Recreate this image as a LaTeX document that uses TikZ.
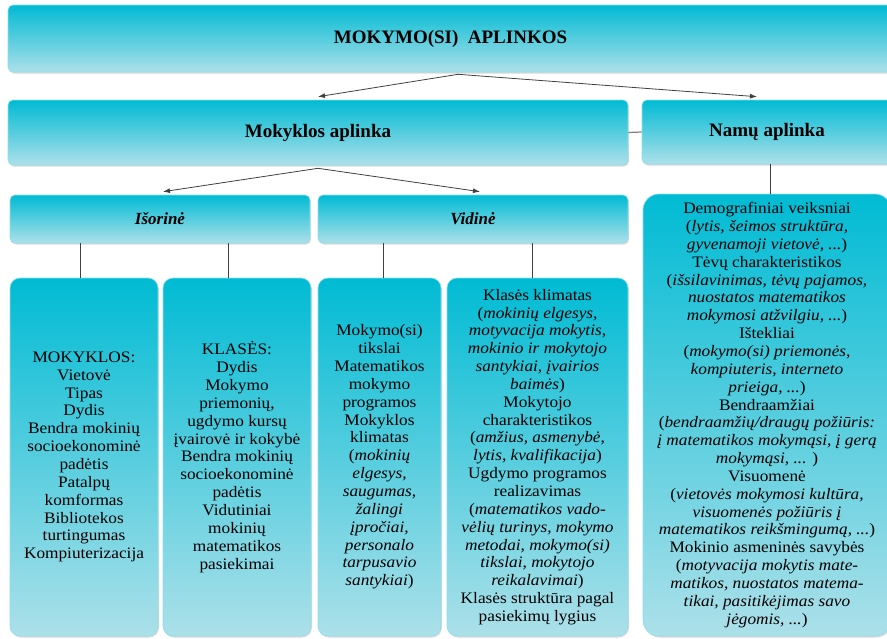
\documentclass[tikz,border=0pt]{standalone}
\usepackage{fontspec}
\setmainfont{Liberation Serif}[FakeStretch=1.08]
\newfontfamily\headfont{Liberation Serif}
\usepackage{tikz}
\usetikzlibrary{arrows.meta,shadows,calc}
\definecolor{boxcyan}{RGB}{0,187,212}
\definecolor{boxlight}{RGB}{172,224,233}
\definecolor{linegray}{RGB}{64,64,64}

\begin{document}
\begin{tikzpicture}[x=1pt,y=-1pt,>={Latex[length=7pt,width=5pt]},
  every node/.style={inner sep=0pt,align=center},
  boxshade/.style={draw=boxcyan!45!white,line width=0.6pt,
    drop shadow={shadow xshift=1pt,shadow yshift=-1.5pt,opacity=0.3}},
  headbox/.style={boxshade,rounded corners=5pt,top color=boxcyan,middle color=boxcyan,
    bottom color=boxlight,font=\headfont\bfseries\fontsize{19}{22}\selectfont},
  subbox/.style={headbox,minimum height=48pt,
    font=\headfont\bfseries\itshape\fontsize{17}{20}\selectfont},
  factbox/.style={boxshade,rounded corners=10pt,top color=boxcyan,bottom color=boxlight,
    minimum height=358pt,font=\fontsize{16}{17.85}\selectfont},
  homebox/.style={factbox,rounded corners=16pt,minimum height=442pt},
  link/.style={linegray,line width=0.8pt}]
\clip (0,0) rectangle (887,638);

% Top level
\node[headbox,minimum width=885pt,minimum height=67pt] (top) at (450.5,38.5) {MOKYMO(SI)\ \ APLINKOS};

% Second level
\node[headbox,minimum width=620pt,minimum height=65pt] (mok) at (318,132.5) {Mokyklos aplinka};
\node[headbox,minimum width=250pt,minimum height=64pt] (namu) at (767,132) {Namų aplinka};

% Third level
\node[subbox,minimum width=300pt] (isor) at (160,219) {Išorinė};
\node[subbox,minimum width=310pt] (vid) at (473,219) {Vidinė};

% Factors
\node[factbox,minimum width=148pt] (isorA) at (84,457) {MOKYKLOS:\\Vietovė\\Tipas\\Dydis\\Bendra mokinių\\socioekonominė\\padėtis\\Patalpų\\komformas\\Bibliotekos\\turtingumas\\Kompiuterizacija};
\node[factbox,minimum width=148pt] (isorB) at (237,457) {KLASĖS:\\Dydis\\Mokymo\\priemonių,\\ugdymo kursų\\įvairovė ir kokybė\\Bendra mokinių\\socioekonominė\\padėtis\\Vidutiniai\\mokinių\\matematikos\\pasiekimai};
\node[factbox,minimum width=123pt] (vidA) at (379.5,457) {Mokymo(si)\\tikslai\\Matematikos\\mokymo\\programos\\Mokyklos\\klimatas\\(\textit{mokinių}\\\textit{elgesys,}\\\textit{saugumas,}\\\textit{žalingi}\\\textit{įpročiai,}\\\textit{personalo}\\\textit{tarpusavio}\\\textit{santykiai})};
\node[factbox,minimum width=181pt] (vidB) at (537.5,457) {Klasės klimatas\\(\textit{mokinių elgesys,}\\\textit{motyvacija mokytis,}\\\textit{mokinio ir mokytojo}\\\textit{santykiai, įvairios}\\\textit{baimės})\\Mokytojo\\charakteristikos\\(\textit{amžius, asmenybė,}\\\textit{lytis, kvalifikacija})\\Ugdymo programos\\realizavimas\\(\textit{matematikos vado-}\\\textit{vėlių turinys, mokymo}\\\textit{metodai, mokymo(si)}\\\textit{tikslai, mokytojo}\\\textit{reikalavimai})\\Klasės struktūra pagal\\pasiekimų lygius};
\node[homebox,minimum width=248pt] (home) at (767,415) {Demografiniai veiksniai\\(\textit{lytis, šeimos struktūra,}\\\textit{gyvenamoji vietovė, ...})\\Tėvų charakteristikos\\(\textit{išsilavinimas, tėvų pajamos,}\\\textit{nuostatos matematikos}\\\textit{mokymosi atžvilgiu, ...})\\Ištekliai\\(\textit{mokymo(si) priemonės,}\\\textit{kompiuteris, interneto}\\\textit{prieiga, ...})\\Bendraamžiai\\(\textit{bendraamžių/draugų požiūris:}\\\textit{į matematikos mokymąsi, į gerą}\\\textit{mokymąsi, ...} )\\Visuomenė\\(\textit{vietovės mokymosi kultūra,}\\\textit{visuomenės požiūris į}\\\textit{matematikos reikšmingumą, ...})\\Mokinio asmeninės savybės\\(\textit{motyvacija mokytis mate-}\\\textit{matikos, nuostatos matema-}\\\textit{tikai, pasitikėjimas savo}\\\textit{jėgomis, ...})};

% Connectors
\coordinate (topfork) at ($(top.south)+(7.5,2)$);
\coordinate (mokfork) at ($(mok.south)+(0,3)$);
\draw[link,->] (topfork) -- ([yshift=3pt]mok.north);
\draw[link,->] (topfork) -- ([xshift=-10pt,yshift=3pt]namu.north);
\draw[gray,line width=1.2pt] (mok.east) -- (namu.west);
\draw[link,->] (mokfork) -- ([xshift=3pt,yshift=3pt]isor.north);
\draw[link,->] (mokfork) -- ([xshift=7pt,yshift=3pt]vid.north);
\draw[link] ([xshift=3pt]namu.south) -- ([xshift=3pt]home.north);
\draw[link] ([xshift=-4pt]isorA.north) -- ([xshift=-4pt]isorA.north |- isor.south);
\draw[link] ([xshift=-9pt]isorB.north) -- ([xshift=-9pt]isorB.north |- isor.south);
\draw[link] ([xshift=3.5pt]vidA.north) -- ([xshift=3.5pt]vidA.north |- vid.south);
\draw[link] ([xshift=-5.5pt]vidB.north) -- ([xshift=-5.5pt]vidB.north |- vid.south);

\end{tikzpicture}
\end{document}
